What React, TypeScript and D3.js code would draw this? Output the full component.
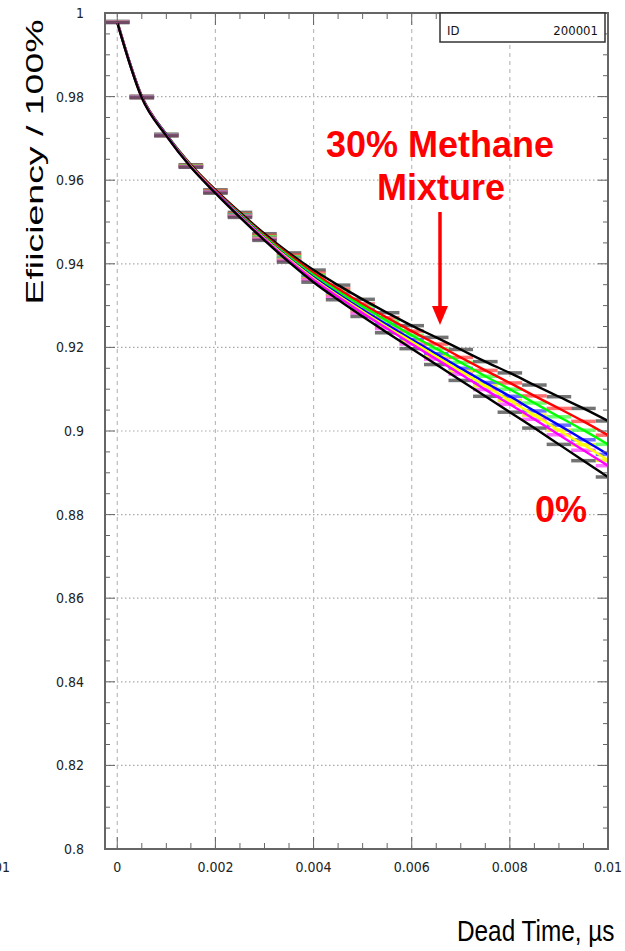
import React from 'react';
import * as d3 from 'd3';

// ---- data ----
const deadTime = [0, 0.0005, 0.001, 0.0015, 0.002, 0.0025, 0.003, 0.0035, 0.004, 0.0045, 0.005,
  0.0055, 0.006, 0.0065, 0.007, 0.0075, 0.008, 0.0085, 0.009, 0.0095, 0.01];
const methane30 = [0.9980, 0.9801, 0.9710, 0.9637, 0.9577, 0.9523, 0.9472, 0.9426, 0.9385, 0.9349, 0.9315,
  0.9283, 0.9252, 0.9224, 0.9195, 0.9166, 0.9139, 0.9110, 0.9082, 0.9054, 0.9024];
const methane25 = [0.9979, 0.9800, 0.9709, 0.9635, 0.9575, 0.9520, 0.9468, 0.9421, 0.9378, 0.9340, 0.9304,
  0.9271, 0.9239, 0.9208, 0.9176, 0.9145, 0.9115, 0.9084, 0.9054, 0.9023, 0.8990];
const methane20 = [0.9979, 0.9799, 0.9709, 0.9634, 0.9573, 0.9518, 0.9465, 0.9417, 0.9373, 0.9334, 0.9298,
  0.9263, 0.9229, 0.9197, 0.9164, 0.9131, 0.9100, 0.9067, 0.9034, 0.9002, 0.8968];
const methane15 = [0.9978, 0.9799, 0.9708, 0.9633, 0.9572, 0.9516, 0.9462, 0.9413, 0.9368, 0.9328, 0.9290,
  0.9254, 0.9219, 0.9185, 0.9150, 0.9116, 0.9083, 0.9048, 0.9014, 0.8979, 0.8944];
const methane10 = [0.9978, 0.9798, 0.9707, 0.9633, 0.9571, 0.9514, 0.9461, 0.9411, 0.9365, 0.9324, 0.9286,
  0.9249, 0.9214, 0.9178, 0.9143, 0.9108, 0.9073, 0.9038, 0.9002, 0.8967, 0.8930];
const methane5 = [0.9978, 0.9798, 0.9707, 0.9632, 0.9571, 0.9513, 0.9459, 0.9408, 0.9362, 0.9321, 0.9282,
  0.9245, 0.9208, 0.9172, 0.9136, 0.9099, 0.9064, 0.9028, 0.8991, 0.8954, 0.8917];
const methane0 = [0.9977, 0.9797, 0.9706, 0.9631, 0.9569, 0.9511, 0.9456, 0.9404, 0.9356, 0.9314, 0.9274,
  0.9235, 0.9197, 0.9159, 0.9121, 0.9083, 0.9045, 0.9007, 0.8968, 0.8929, 0.8890];

const seriesValues = [methane30, methane25, methane20, methane15, methane10, methane5, methane0];
const seriesColors = ['#000000', '#ff0000', '#00ff00', '#0000ff', '#ffff00', '#ff00ff', '#000000'];
const barColors = ['#444444', '#ff4040', '#40ff40', '#4040ff', '#e8e800', '#ff40ff', '#444444'];

const yTicks = [0.8, 0.82, 0.84, 0.86, 0.88, 0.9, 0.92, 0.94, 0.96, 0.98, 1];
const yTickLabels = ['0.8', '0.82', '0.84', '0.86', '0.88', '0.9', '0.92', '0.94', '0.96', '0.98', '1'];
const xTicks = [0, 0.002, 0.004, 0.006, 0.008, 0.01];
const xTickLabels = ['0', '0.002', '0.004', '0.006', '0.008', '0.01'];

const binWidth = 0.0005;
const narrow = "'Liberation Sans Narrow','DejaVu Sans Condensed','Liberation Sans',sans-serif";
const sans = "'Liberation Sans',Arial,Helvetica,sans-serif";

export default function App() {
  const W = 625, H = 951;
  const L = 105, R = 608, T = 13, B = 849;
  const x = d3.scaleLinear().domain([-0.00025, 0.01]).range([L, R]);
  const y = d3.scaleLinear().domain([0.8, 1.0]).range([B, T]);

  const line = d3.line<number>()
    .x((_, i) => x(deadTime[i]))
    .y((d) => y(d))
    .curve(d3.curveMonotoneX);

  const minorY = d3.range(0, 41).map((i) => 0.8 + i * 0.005);
  const minorX = d3.range(0, 21).map((i) => i * 0.0005);

  return (
    <svg width={W} height={H} style={{ position: 'absolute', left: 0, top: 0, background: '#fff' }}>
      <defs>
        <clipPath id="plot">
          <rect x={L} y={T} width={R - L} height={B - T} />
        </clipPath>
      </defs>
      <rect x={0} y={0} width={W} height={H} fill="#fff" />

      {/* grid */}
      {yTicks.slice(1, -1).map((v, i) => (
        <line key={'gy' + i} x1={L} x2={R} y1={y(v)} y2={y(v)} stroke="#aaa" strokeWidth={1.2} strokeDasharray="1.5 2.5" />
      ))}
      {xTicks.slice(0, -1).map((v, i) => (
        <line key={'gx' + i} x1={x(v)} x2={x(v)} y1={T} y2={B} stroke="#bbb" strokeWidth={1.2} strokeDasharray="4 4" />
      ))}

      {/* series */}
      <g clipPath="url(#plot)">
        {seriesValues.map((vals, s) => (
          <g key={'bars' + s}>
            {vals.map((v, i) => (
              <line key={i} x1={x(deadTime[i] - binWidth / 2)} x2={x(deadTime[i] + binWidth / 2)}
                y1={y(v)} y2={y(v)} stroke={barColors[s]} strokeWidth={3.5} strokeOpacity={0.75} />
            ))}
          </g>
        ))}
        {seriesValues.map((vals, s) => (
          <path key={'line' + s} d={line(vals) || ''} fill="none" stroke={seriesColors[s]} strokeWidth={2.4} />
        ))}
      </g>

      {/* frame */}
      <rect x={L} y={T} width={R - L} height={B - T} fill="none" stroke="#666" strokeWidth={2} />

      {/* y ticks */}
      {minorY.map((v, i) => {
        const len = i % 4 === 0 ? 10 : 5;
        return (
          <g key={'ty' + i}>
            <line x1={L} x2={L + len} y1={y(v)} y2={y(v)} stroke="#666" strokeWidth={1} />
            <line x1={R} x2={R - len} y1={y(v)} y2={y(v)} stroke="#666" strokeWidth={1} />
          </g>
        );
      })}
      {/* x ticks */}
      {minorX.map((v, i) => {
        const len = i % 4 === 0 ? 12 : 6;
        return (
          <g key={'tx' + i}>
            <line x1={x(v)} x2={x(v)} y1={B} y2={B - len} stroke="#666" strokeWidth={1} />
            <line x1={x(v)} x2={x(v)} y1={T} y2={T + len} stroke="#666" strokeWidth={1} />
          </g>
        );
      })}

      {/* tick labels */}
      {yTicks.map((v, i) => (
        <text key={'ly' + i} x={84} y={y(v) + 5} textAnchor="end" fontFamily={narrow} fontSize={14} fill="#222">
          {yTickLabels[i]}
        </text>
      ))}
      {xTicks.map((v, i) => (
        <text key={'lx' + i} x={x(v)} y={872} textAnchor="middle" fontFamily={narrow} fontSize={14} fill="#222">
          {xTickLabels[i]}
        </text>
      ))}
      <text x={10} y={872} textAnchor="end" fontFamily={narrow} fontSize={14} fill="#222">0.01</text>

      {/* stats box */}
      <rect x={440} y={T} width={165} height={29} fill="#fff" stroke="#333" strokeWidth={1.5} />
      <text x={447} y={35} fontFamily={narrow} fontSize={13} fill="#111">ID</text>
      <text x={598} y={35} textAnchor="end" fontFamily={narrow} fontSize={13} fill="#111">200001</text>

      {/* axis titles */}
      <text transform="translate(43,162) rotate(-90)" textAnchor="middle" fontFamily={sans} fontSize={24}
        textLength={285} lengthAdjust="spacingAndGlyphs" fill="#000">Efiiciency / 100%</text>
      <text transform="translate(457,941) scale(0.84,1)" fontFamily={sans} fontSize={29} fill="#000">
        Dead Time, µs
      </text>

      {/* annotations */}
      <text x={440} y={157} textAnchor="middle" fontFamily={sans} fontWeight="bold" fontSize={36} fill="#ff0000">30% Methane</text>
      <text x={441} y={200} textAnchor="middle" fontFamily={sans} fontWeight="bold" fontSize={36} fill="#ff0000">Mixture</text>
      <line x1={440} x2={440} y1={212} y2={308} stroke="#ff0000" strokeWidth={3.5} />
      <polygon points="432,306 448,306 440,325" fill="#ff0000" />
      <text x={561} y={522} textAnchor="middle" fontFamily={sans} fontWeight="bold" fontSize={36} fill="#ff0000">0%</text>
    </svg>
  );
}
